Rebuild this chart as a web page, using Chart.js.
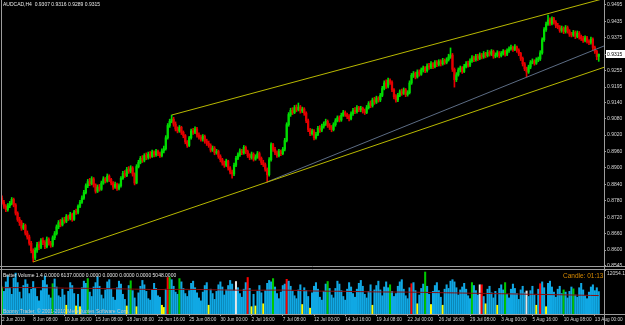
<!DOCTYPE html>
<html>
<head>
<meta charset="utf-8">
<script src="https://cdn.jsdelivr.net/npm/chart.js@4.4.0/dist/chart.umd.min.js"></script>
<style>
html, body { margin: 0; padding: 0; background: #000; }
#wrap { position: relative; width: 625px; height: 325px; overflow: hidden; font-family: "Liberation Sans", Arial, sans-serif; }
#main { position: absolute; left: 0; top: 0; }
#vol { position: absolute; left: 0; top: 268px; }
.txt { position: absolute; white-space: pre; line-height: 1; }
</style>
</head>
<body>
<div id="wrap">
  <canvas id="main" width="625" height="268"></canvas>
  <canvas id="vol" width="625" height="57"></canvas>
  <div class="txt" id="title" style="left:3px;top:2px;font-size:5px;color:#e8e8e8"></div>
  <div class="txt" id="volhead" style="left:3px;top:273px;font-size:5px;color:#e8e8e8"></div>
  <div class="txt" style="left:563px;top:273px;font-size:6.5px;color:#d88a00">Candle: 01:13</div>
  <div class="txt" style="left:3px;top:309px;font-size:5px;color:#c8c8c8">Boomy Trader, © 2001-2010 MetaQuotes Software Corp.</div>
</div>
<script>
// AUDCAD H4, 2 Jun 2010 - 13 Aug 2010
const opens = [
0.8790,0.8775,0.8760,0.8748,0.8762,0.8770,0.8785,0.8765,0.8735,0.8712,
0.8700,0.8680,0.8690,0.8662,0.8648,0.8625,0.8598,0.8571,0.8600,0.8620,
0.8610,0.8635,0.8628,0.8612,0.8640,0.8625,0.8618,0.8645,0.8660,0.8685,
0.8700,0.8692,0.8710,0.8705,0.8722,0.8715,0.8730,0.8712,0.8740,0.8738,
0.8760,0.8775,0.8790,0.8810,0.8835,0.8850,0.8842,0.8860,0.8838,0.8815,
0.8830,0.8822,0.8845,0.8860,0.8852,0.8870,0.8858,0.8845,0.8830,0.8840,
0.8825,0.8835,0.8862,0.8880,0.8872,0.8895,0.8888,0.8900,0.8878,0.8845,
0.8905,0.8920,0.8935,0.8928,0.8945,0.8938,0.8950,0.8942,0.8958,0.8948,
0.8960,0.8952,0.8945,0.8962,0.8970,0.9010,0.9055,0.9070,0.9078,0.9060,
0.9042,0.9035,0.9048,0.9030,0.9018,0.8995,0.8982,0.9010,0.9035,0.9030,
0.9042,0.9020,0.9012,0.9005,0.9015,0.8998,0.8990,0.8982,0.8965,0.8972,
0.8955,0.8960,0.8942,0.8930,0.8918,0.8910,0.8925,0.8900,0.8885,0.8878,
0.8910,0.8935,0.8948,0.8962,0.8955,0.8975,0.8960,0.8945,0.8938,0.8950,
0.8932,0.8940,0.8952,0.8935,0.8920,0.8912,0.8895,0.8875,0.8930,0.8985,
0.8968,0.8955,0.8945,0.8960,0.8952,0.8968,0.9000,0.9058,0.9095,0.9110,
0.9102,0.9120,0.9112,0.9122,0.9108,0.9115,0.9100,0.9072,0.9040,0.9025,
0.9035,0.9010,0.9022,0.9045,0.9038,0.9052,0.9060,0.9070,0.9055,0.9048,
0.9040,0.9058,0.9072,0.9083,0.9075,0.9092,0.9102,0.9095,0.9088,0.9080,
0.9098,0.9110,0.9105,0.9120,0.9112,0.9118,0.9108,0.9102,0.9120,0.9135,
0.9128,0.9148,0.9140,0.9155,0.9148,0.9165,0.9190,0.9210,0.9198,0.9220,
0.9212,0.9185,0.9160,0.9148,0.9165,0.9178,0.9172,0.9185,0.9168,0.9175,
0.9210,0.9238,0.9245,0.9232,0.9250,0.9242,0.9258,0.9265,0.9255,0.9272,
0.9268,0.9280,0.9270,0.9285,0.9278,0.9288,0.9280,0.9292,0.9285,0.9295,
0.9305,0.9312,0.9260,0.9222,0.9240,0.9258,0.9265,0.9252,0.9270,0.9280,
0.9275,0.9290,0.9302,0.9295,0.9308,0.9300,0.9312,0.9305,0.9318,0.9310,
0.9322,0.9315,0.9325,0.9308,0.9312,0.9320,0.9310,0.9318,0.9325,0.9315,
0.9328,0.9335,0.9340,0.9332,0.9342,0.9330,0.9318,0.9300,0.9280,0.9262,
0.9250,0.9268,0.9285,0.9290,0.9282,0.9295,0.9298,0.9320,0.9368,0.9405,
0.9425,0.9440,0.9428,0.9445,0.9432,0.9420,0.9415,0.9402,0.9410,0.9398,
0.9412,0.9400,0.9388,0.9385,0.9395,0.9380,0.9392,0.9378,0.9372,0.9365,
0.9375,0.9362,0.9358,0.9370,0.9340,0.9325,0.9307
];
const highs = [
0.8798,0.8782,0.8766,0.8770,0.8778,0.8792,0.8790,0.8770,0.8740,0.8720,
0.8708,0.8698,0.8695,0.8670,0.8655,0.8632,0.8605,0.8608,0.8628,0.8630,
0.8642,0.8645,0.8635,0.8648,0.8645,0.8632,0.8652,0.8668,0.8692,0.8708,
0.8712,0.8718,0.8720,0.8730,0.8728,0.8738,0.8735,0.8745,0.8750,0.8765,
0.8782,0.8798,0.8818,0.8842,0.8858,0.8862,0.8868,0.8865,0.8842,0.8838,
0.8840,0.8852,0.8868,0.8865,0.8878,0.8875,0.8862,0.8850,0.8848,0.8845,
0.8842,0.8868,0.8888,0.8890,0.8902,0.8905,0.8908,0.8905,0.8882,0.8912,
0.8928,0.8942,0.8945,0.8952,0.8955,0.8958,0.8960,0.8965,0.8962,0.8968,
0.8965,0.8958,0.8970,0.8980,0.9018,0.9062,0.9078,0.9093,0.9085,0.9068,
0.9050,0.9055,0.9052,0.9035,0.9022,0.9000,0.9015,0.9042,0.9045,0.9050,
0.9048,0.9028,0.9020,0.9022,0.9020,0.9005,0.8998,0.8988,0.8980,0.8978,
0.8968,0.8965,0.8948,0.8935,0.8925,0.8932,0.8928,0.8905,0.8892,0.8918,
0.8942,0.8955,0.8970,0.8968,0.8982,0.8980,0.8965,0.8952,0.8958,0.8955,
0.8948,0.8960,0.8958,0.8940,0.8928,0.8918,0.8900,0.8938,0.8992,0.8990,
0.8975,0.8962,0.8968,0.8965,0.8975,0.9008,0.9065,0.9102,0.9118,0.9120,
0.9128,0.9130,0.9137,0.9128,0.9122,0.9120,0.9105,0.9078,0.9045,0.9042,
0.9040,0.9030,0.9052,0.9055,0.9060,0.9068,0.9078,0.9075,0.9062,0.9055,
0.9065,0.9080,0.9090,0.9090,0.9100,0.9110,0.9108,0.9100,0.9095,0.9105,
0.9118,0.9120,0.9128,0.9125,0.9125,0.9122,0.9115,0.9128,0.9142,0.9145,
0.9155,0.9158,0.9162,0.9160,0.9172,0.9198,0.9218,0.9222,0.9228,0.9225,
0.9218,0.9190,0.9168,0.9172,0.9185,0.9188,0.9192,0.9190,0.9182,0.9218,
0.9245,0.9252,0.9250,0.9258,0.9258,0.9265,0.9272,0.9270,0.9280,0.9282,
0.9288,0.9285,0.9292,0.9292,0.9295,0.9295,0.9300,0.9298,0.9302,0.9315,
0.9338,0.9318,0.9265,0.9248,0.9265,0.9272,0.9270,0.9278,0.9288,0.9290,
0.9298,0.9310,0.9308,0.9315,0.9315,0.9320,0.9318,0.9325,0.9322,0.9330,
0.9328,0.9332,0.9330,0.9320,0.9328,0.9325,0.9325,0.9332,0.9330,0.9335,
0.9342,0.9348,0.9345,0.9350,0.9345,0.9335,0.9322,0.9305,0.9285,0.9268,
0.9275,0.9292,0.9298,0.9295,0.9302,0.9305,0.9328,0.9375,0.9412,0.9432,
0.9458,0.9448,0.9452,0.9450,0.9438,0.9428,0.9420,0.9418,0.9415,0.9420,
0.9418,0.9405,0.9395,0.9402,0.9400,0.9400,0.9398,0.9385,0.9380,0.9382,
0.9380,0.9368,0.9378,0.9375,0.9345,0.9330,0.9316
];
const lows = [
0.8768,0.8752,0.8740,0.8742,0.8755,0.8765,0.8758,0.8728,0.8705,0.8690,
0.8672,0.8675,0.8655,0.8640,0.8618,0.8590,0.8557,0.8565,0.8592,0.8602,
0.8605,0.8620,0.8605,0.8608,0.8618,0.8610,0.8612,0.8638,0.8655,0.8678,
0.8685,0.8688,0.8698,0.8700,0.8708,0.8710,0.8705,0.8708,0.8730,0.8732,
0.8755,0.8770,0.8785,0.8805,0.8828,0.8835,0.8838,0.8830,0.8808,0.8810,
0.8815,0.8818,0.8840,0.8845,0.8848,0.8850,0.8838,0.8822,0.8825,0.8818,
0.8820,0.8830,0.8858,0.8865,0.8868,0.8880,0.8882,0.8870,0.8838,0.8842,
0.8900,0.8915,0.8920,0.8922,0.8930,0.8932,0.8935,0.8938,0.8940,0.8942,
0.8945,0.8938,0.8940,0.8955,0.8965,0.9005,0.9048,0.9065,0.9052,0.9035,
0.9028,0.9030,0.9022,0.9010,0.8988,0.8975,0.8978,0.9005,0.9022,0.9025,
0.9012,0.9005,0.8998,0.8998,0.8990,0.8982,0.8975,0.8958,0.8960,0.8948,
0.8950,0.8935,0.8922,0.8910,0.8902,0.8905,0.8892,0.8878,0.8863,0.8872,
0.8905,0.8930,0.8942,0.8948,0.8950,0.8952,0.8938,0.8930,0.8932,0.8925,
0.8928,0.8935,0.8928,0.8912,0.8905,0.8888,0.8849,0.8870,0.8925,0.8960,
0.8948,0.8938,0.8940,0.8945,0.8948,0.8962,0.8995,0.9052,0.9088,0.9095,
0.9098,0.9105,0.9108,0.9100,0.9102,0.9092,0.9065,0.9032,0.9018,0.9020,
0.9002,0.9005,0.9018,0.9030,0.9032,0.9045,0.9055,0.9048,0.9040,0.9032,
0.9035,0.9052,0.9068,0.9068,0.9070,0.9088,0.9088,0.9080,0.9072,0.9075,
0.9092,0.9098,0.9100,0.9105,0.9105,0.9100,0.9095,0.9098,0.9115,0.9120,
0.9122,0.9132,0.9135,0.9140,0.9142,0.9160,0.9185,0.9190,0.9192,0.9205,
0.9178,0.9152,0.9140,0.9142,0.9160,0.9165,0.9168,0.9160,0.9162,0.9170,
0.9205,0.9230,0.9225,0.9228,0.9235,0.9238,0.9250,0.9248,0.9250,0.9260,
0.9262,0.9262,0.9265,0.9270,0.9272,0.9272,0.9275,0.9278,0.9280,0.9290,
0.9300,0.9252,0.9195,0.9215,0.9235,0.9250,0.9245,0.9248,0.9265,0.9268,
0.9270,0.9285,0.9288,0.9290,0.9292,0.9295,0.9298,0.9300,0.9302,0.9305,
0.9308,0.9310,0.9300,0.9302,0.9305,0.9302,0.9305,0.9312,0.9308,0.9310,
0.9322,0.9330,0.9325,0.9328,0.9322,0.9310,0.9292,0.9272,0.9255,0.9232,
0.9245,0.9262,0.9280,0.9275,0.9278,0.9288,0.9292,0.9315,0.9362,0.9398,
0.9420,0.9420,0.9422,0.9425,0.9412,0.9408,0.9395,0.9395,0.9390,0.9392,
0.9392,0.9380,0.9378,0.9380,0.9372,0.9375,0.9370,0.9365,0.9358,0.9360,
0.9355,0.9350,0.9352,0.9332,0.9318,0.9295,0.9289
];
const closes = [
0.8775,0.8760,0.8748,0.8762,0.8770,0.8785,0.8765,0.8735,0.8712,0.8700,
0.8680,0.8690,0.8662,0.8648,0.8625,0.8598,0.8571,0.8600,0.8620,0.8610,
0.8635,0.8628,0.8612,0.8640,0.8625,0.8618,0.8645,0.8660,0.8685,0.8700,
0.8692,0.8710,0.8705,0.8722,0.8715,0.8730,0.8712,0.8740,0.8738,0.8760,
0.8775,0.8790,0.8810,0.8835,0.8850,0.8842,0.8860,0.8838,0.8815,0.8830,
0.8822,0.8845,0.8860,0.8852,0.8870,0.8858,0.8845,0.8830,0.8840,0.8825,
0.8835,0.8862,0.8880,0.8872,0.8895,0.8888,0.8900,0.8878,0.8845,0.8905,
0.8920,0.8935,0.8928,0.8945,0.8938,0.8950,0.8942,0.8958,0.8948,0.8960,
0.8952,0.8945,0.8962,0.8970,0.9010,0.9055,0.9070,0.9078,0.9060,0.9042,
0.9035,0.9048,0.9030,0.9018,0.8995,0.8982,0.9010,0.9035,0.9030,0.9042,
0.9020,0.9012,0.9005,0.9015,0.8998,0.8990,0.8982,0.8965,0.8972,0.8955,
0.8960,0.8942,0.8930,0.8918,0.8910,0.8925,0.8900,0.8885,0.8878,0.8910,
0.8935,0.8948,0.8962,0.8955,0.8975,0.8960,0.8945,0.8938,0.8950,0.8932,
0.8940,0.8952,0.8935,0.8920,0.8912,0.8895,0.8875,0.8930,0.8985,0.8968,
0.8955,0.8945,0.8960,0.8952,0.8968,0.9000,0.9058,0.9095,0.9110,0.9102,
0.9120,0.9112,0.9122,0.9108,0.9115,0.9100,0.9072,0.9040,0.9025,0.9035,
0.9010,0.9022,0.9045,0.9038,0.9052,0.9060,0.9070,0.9055,0.9048,0.9040,
0.9058,0.9072,0.9083,0.9075,0.9092,0.9102,0.9095,0.9088,0.9080,0.9098,
0.9110,0.9105,0.9120,0.9112,0.9118,0.9108,0.9102,0.9120,0.9135,0.9128,
0.9148,0.9140,0.9155,0.9148,0.9165,0.9190,0.9210,0.9198,0.9220,0.9212,
0.9185,0.9160,0.9148,0.9165,0.9178,0.9172,0.9185,0.9168,0.9175,0.9210,
0.9238,0.9245,0.9232,0.9250,0.9242,0.9258,0.9265,0.9255,0.9272,0.9268,
0.9280,0.9270,0.9285,0.9278,0.9288,0.9280,0.9292,0.9285,0.9295,0.9305,
0.9312,0.9260,0.9222,0.9240,0.9258,0.9265,0.9252,0.9270,0.9280,0.9275,
0.9290,0.9302,0.9295,0.9308,0.9300,0.9312,0.9305,0.9318,0.9310,0.9322,
0.9315,0.9325,0.9308,0.9312,0.9320,0.9310,0.9318,0.9325,0.9315,0.9328,
0.9335,0.9340,0.9332,0.9342,0.9330,0.9318,0.9300,0.9280,0.9262,0.9250,
0.9268,0.9285,0.9290,0.9282,0.9295,0.9298,0.9320,0.9368,0.9405,0.9425,
0.9440,0.9428,0.9445,0.9432,0.9420,0.9415,0.9402,0.9410,0.9398,0.9412,
0.9400,0.9388,0.9385,0.9395,0.9380,0.9392,0.9378,0.9372,0.9365,0.9375,
0.9362,0.9358,0.9370,0.9340,0.9325,0.9307,0.9315
];
const volumes = [
7400,6200,8800,10500,7200,5400,9800,11200,8600,6000,
4200,7800,9400,8200,5600,6800,8900,7000,4800,3600,
6400,9200,10400,8000,5200,4400,8300,9600,7400,5000,
4600,6800,5200,2400,6200,8600,7800,5600,2200,5400,
2000,7200,9000,8400,9700,6000,4800,7400,8600,10200,
7600,5200,4200,6600,8800,9400,6800,4600,3800,7200,
9000,8200,5400,4000,2200,7800,9100,6400,4400,2000,
5800,7600,9200,8000,6200,4200,3800,6600,8400,7000,
5000,4600,2400,1800,6800,10000,10000,9400,7600,6000,
5400,9700,8800,7000,5600,4800,6400,8400,9000,7200,
5800,4400,3600,6000,7800,8600,2400,6800,5600,4000,
6200,8000,8800,7400,5200,6600,7800,9200,8200,6400,
8900,7200,5600,4600,6800,8600,10000,7000,2000,5400,
2200,6200,7800,5800,2800,6400,8400,9200,8800,9700,
7400,5600,4200,6000,7800,8200,9500,9000,7600,6200,
5000,4200,6600,8000,2600,7200,6400,4800,1600,5800,
7600,8600,6800,4600,3800,6200,8200,8900,7000,5200,
4400,7000,9000,8200,6400,4800,3800,6800,8600,7400,
5600,4600,6800,8400,9200,7600,5400,4400,6200,8000,
2400,6600,7800,9000,6600,5000,7400,8800,7200,8000,
6200,4800,5600,7600,8800,9400,6800,5000,4200,7200,
8300,8600,6400,2800,5200,7000,8200,11500,7600,5400,
2600,6200,7800,8600,6400,4600,2400,6800,8000,7000,
9000,9400,8800,7200,5200,6600,7400,8400,6800,5000,
4200,8600,7800,6400,5200,8000,8000,4800,2800,6800,
7600,5800,4400,6200,2400,7000,8000,6600,8600,5400,
4400,6800,8200,7000,5600,4000,6600,7600,5800,6300,
4800,6400,7600,5200,2400,6800,8300,8800,7200,2000,
8400,9000,7400,6000,4600,6800,7600,5600,6600,6000,
4400,6200,7400,6900,5200,4600,7200,8400,6600,5000,
4200,6000,7400,8000,6400,7200,6137
];
// Better Volume signals (bar numbers)
const climaxUpBars = [85, 126, 146, 210, 246, 276];
const churnBars = [0, 26, 44, 66, 86, 91, 139, 167, 199, 217, 241, 258, 288, 293];
const climaxDownBars = [120, 245, 269];
const lowVolBars = [33, 38, 40, 64, 69, 82, 83, 106, 128, 130, 134, 154, 158, 190, 213, 220, 226, 248, 254, 274, 279];
// volume moving average, read at a few bars
const maBars = [0, 16, 32, 48, 64, 80, 96, 112, 128, 144, 160, 176, 192, 208, 224, 240, 256, 272, 288, 306];
const maValues = [7200, 7250, 7100, 7000, 6850, 6700, 6750, 6600, 6500, 6550, 6300, 6200, 6050, 6000, 5850, 5700, 5550, 5400, 5250, 5048];
const volMax = 12054.1;

// trend lines: [bar, price]
const channelUpper = [[87, 0.9093], [309, 0.9519]];
const channelLower = [[16, 0.8557], [309, 0.9268]];
const supportLine = [[136, 0.8849], [309, 0.9346]];

const priceTicks = [0.9495, 0.9435, 0.9375, 0.9315, 0.9255, 0.9195, 0.9140, 0.9080, 0.9020,
  0.8960, 0.8900, 0.8840, 0.8780, 0.8720, 0.8660, 0.8600, 0.8545];
const dateLabels = ['2 Jun 2010', '8 Jun 08:00', '10 Jun 16:00', '15 Jun 08:00', '18 Jun 08:00',
  '22 Jun 16:00', '25 Jun 08:00', '30 Jun 00:00', '2 Jul 16:00', '7 Jul 08:00', '12 Jul 00:00',
  '14 Jul 16:00', '19 Jul 08:00', '22 Jul 00:00', '26 Jul 16:00', '29 Jul 08:00', '3 Aug 00:00',
  '5 Aug 16:00', '10 Aug 08:00', '13 Aug 00:00'];
const dateTickEvery = 16;

const priceMin = 0.8542, priceMax = 0.9513;
const xMin = -0.5, xMax = 308.7;
const font = { family: 'Liberation Sans', size: 5 };
const textCol = '#d8d8d8', lineCol = '#9c9c9c';

const last = closes.length - 1;
document.getElementById('title').textContent = 'AUDCAD,H4  ' +
  [opens[last], highs[last], lows[last], closes[last]].map(v => v.toFixed(4)).join(' ');
document.getElementById('volhead').textContent = 'Better Volume 1.4 0.0000 ' +
  volumes[last].toFixed(4) + ' 0.0000 0.0000 0.0000 0.0000 ' + maValues[maValues.length - 1].toFixed(4);

const candleCol = closes.map((c, i) => c >= opens[i] ? '#00dc00' : '#e60000');
const volCol = volumes.map((v, i) => {
  if (climaxUpBars.includes(i)) return '#ff0000';
  if (climaxDownBars.includes(i)) return '#e6e6e6';
  if (churnBars.includes(i)) return '#00c800';
  if (lowVolBars.includes(i)) return '#ffff00';
  return '#10a8e4';
});

function trend(pts, color) {
  return {
    type: 'line', data: pts.map(p => ({ x: p[0], y: p[1] })),
    borderColor: color, borderWidth: 1, pointRadius: 0, order: 0
  };
}

const frame = {
  id: 'frame',
  afterDraw(chart) {
    const { ctx, chartArea: a, width } = chart;
    ctx.save();
    ctx.strokeStyle = lineCol;
    ctx.lineWidth = 1;
    ctx.beginPath();
    ctx.moveTo(a.left + 0.5, 0); ctx.lineTo(a.left + 0.5, chart.height);
    ctx.moveTo(a.right + 0.5, 0); ctx.lineTo(a.right + 0.5, chart.height);
    ctx.moveTo(0, a.bottom + 0.5); ctx.lineTo(width, a.bottom + 0.5);
    if (chart.canvas.id === 'vol') { ctx.moveTo(0, a.top - 0.5); ctx.lineTo(width, a.top - 0.5); }
    ctx.stroke();
    ctx.restore();
  }
};

const priceBox = {
  id: 'priceBox',
  afterDraw(chart) {
    const { ctx, chartArea: a } = chart;
    const y = Math.round(chart.scales.y.getPixelForValue(closes[last]));
    ctx.save();
    ctx.fillStyle = '#ffffff';
    ctx.fillRect(a.right + 2, y - 4, 21, 8);
    ctx.fillStyle = '#000';
    ctx.font = '5px "Liberation Sans"';
    ctx.textBaseline = 'middle';
    ctx.fillText(closes[last].toFixed(4), a.right + 3, y + 0.5);
    ctx.restore();
  }
};

const common = {
  responsive: false, animation: false, events: [],
  plugins: { legend: { display: false }, tooltip: { enabled: false } }
};

new Chart(document.getElementById('main'), {
  type: 'bar',
  data: {
    datasets: [
      trend(channelUpper, '#b8b800'),
      trend(channelLower, '#b8b800'),
      trend(supportLine, '#5c6c84'),
      { data: highs.map((h, i) => ({ x: i, y: [lows[i], h] })), backgroundColor: candleCol,
        barThickness: 1, grouped: false, order: 2 },
      { data: closes.map((c, i) => ({ x: i, y: [opens[i], c] })), backgroundColor: candleCol,
        barThickness: 1.6, grouped: false, minBarLength: 1, order: 1 }
    ]
  },
  options: {
    ...common,
    layout: { padding: { left: 1, bottom: 2, top: 0, right: 0 } },
    scales: {
      x: { type: 'linear', min: xMin, max: xMax, offset: false, bounds: 'data', display: false },
      y: {
        position: 'right', min: priceMin, max: priceMax,
        afterBuildTicks: s => { s.ticks = priceTicks.map(v => ({ value: v })); },
        afterFit: s => { s.width = 21; s.paddingTop = 0; s.paddingBottom = 0; },
        grid: { drawOnChartArea: false, tickLength: 2, color: lineCol },
        border: { display: false },
        ticks: { color: textCol, font, padding: 1, autoSkip: false, callback: v => v.toFixed(4) }
      }
    }
  },
  plugins: [frame, priceBox]
});

new Chart(document.getElementById('vol'), {
  type: 'bar',
  data: {
    datasets: [
      { type: 'line', data: maBars.map((b, k) => ({ x: b, y: maValues[k] })), borderColor: '#8c0c0c',
        borderWidth: 1, pointRadius: 0, tension: 0.3, order: 0 },
      { data: volumes.map((v, i) => ({ x: i, y: v })), backgroundColor: volCol,
        barThickness: 1.4, grouped: false, order: 1 }
    ]
  },
  options: {
    ...common,
    layout: { padding: { left: 1, top: 2, bottom: 0, right: 0 } },
    scales: {
      x: {
        type: 'linear', min: xMin, max: xMax, offset: false, bounds: 'data',
        afterBuildTicks: s => { s.ticks = dateLabels.map((t, k) => ({ value: k * dateTickEvery })); },
        afterFit: s => { s.height = 11; s.paddingLeft = 0; s.paddingRight = 0; },
        grid: { drawOnChartArea: false, tickLength: 2, color: lineCol, offset: false },
        border: { display: false },
        ticks: { color: textCol, font: { family: 'Liberation Sans', size: 4.7 }, padding: 1, align: 'start',
          maxRotation: 0, autoSkip: false, labelOffset: 0, callback: (v, k) => dateLabels[k] }
      },
      y: {
        position: 'right', min: 0, max: volMax,
        afterBuildTicks: s => { s.ticks = [{ value: volMax }]; },
        afterFit: s => { s.width = 21; s.paddingTop = 0; s.paddingBottom = 0; },
        grid: { drawOnChartArea: false, tickLength: 2, color: lineCol },
        border: { display: false },
        ticks: { color: textCol, font, padding: 1, labelOffset: 4, callback: v => v.toFixed(1) }
      }
    }
  },
  plugins: [frame]
});
</script>
</body>
</html>
